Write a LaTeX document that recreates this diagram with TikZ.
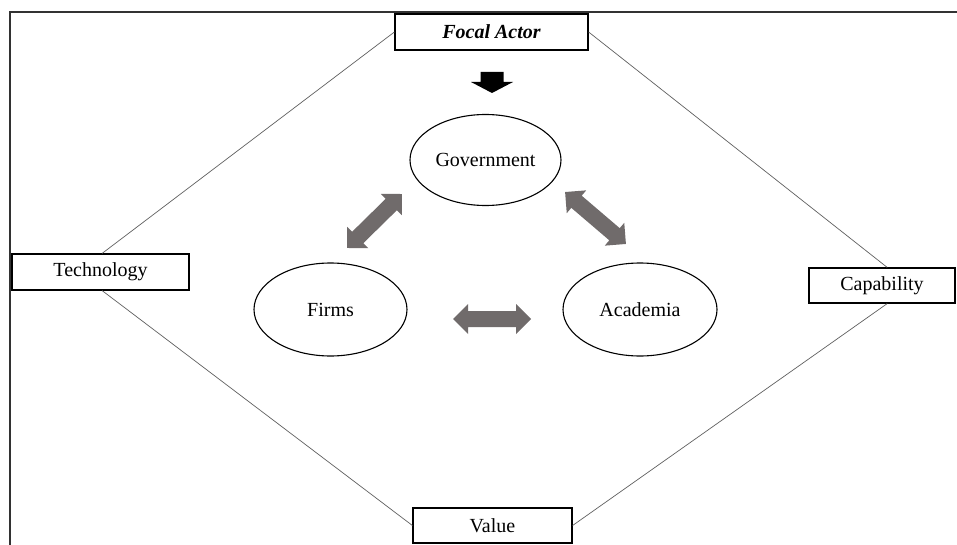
\documentclass[tikz,border=0pt]{standalone}
\usepackage{fontspec}
\setmainfont{Liberation Serif}
\usetikzlibrary{shapes.geometric}
\definecolor{arrowgray}{RGB}{112,107,107}
\definecolor{framegray}{RGB}{50,50,50}
\definecolor{linegray}{RGB}{95,95,95}
\newcommand\fatarrow[4]{%
  \fill[arrowgray, shift={(#1,#2)}, rotate=#3]
    ({-#4*1pt},0pt) -- ({(-#4+15)*1pt},15pt) -- ({(-#4+15)*1pt},8pt)
    -- ({(#4-15)*1pt},8pt) -- ({(#4-15)*1pt},15pt) -- ({#4*1pt},0pt)
    -- ({(#4-15)*1pt},-15pt) -- ({(#4-15)*1pt},-8pt)
    -- ({(-#4+15)*1pt},-8pt) -- ({(-#4+15)*1pt},-15pt) -- cycle;}
\begin{document}
\begin{tikzpicture}[x=1pt,y=-1pt,
  lbl/.style={font=\fontsize{20}{24}\selectfont},
  box/.style={lbl, draw=black, line width=1.2pt, fill=white, inner sep=0pt},
  oval/.style={lbl, ellipse, draw=black, line width=1.1pt, inner sep=0pt},
  diag/.style={draw=linegray, line width=0.7pt}]
\useasboundingbox (0,0) rectangle (957,545);
% frame
\draw[framegray, line width=2pt] (10,545) -- (10,12) -- (957,12);
% boxes
\node[box, minimum width=193pt, minimum height=36pt] (focal) at (491.5,32) {\bfseries\itshape Focal Actor};
\node[box, minimum width=177pt, minimum height=36pt] (tech) at (100.5,272) {Technology};
\node[box, minimum width=146pt, minimum height=35pt] (cap) at (882,285.5) {Capability};
\node[box, minimum width=159pt, minimum height=35pt] (value) at (492.5,525.5) {Value};
% diamond
\draw[diag] (focal.west) -- (tech.85);
\draw[diag] (focal.east) -- (cap.74);
\draw[diag] (tech.-85) -- (value.west);
\draw[diag] (cap.-74) -- (value.east);
% ellipses
\node[oval, minimum width=151pt, minimum height=91pt] (gov) at (485.5,160) {Government};
\node[oval, minimum width=153pt, minimum height=93pt] (firms) at (330.5,309.5) {Firms};
\node[oval, minimum width=154pt, minimum height=93pt] (acad) at (640,309.5) {Academia};
% black arrow
\coordinate (down) at (492,72);
\fill[black] (480.5,72) -- (503.5,72) -- (503.5,82) -- (513,82) -- (492,93) -- (471,82) -- (480.5,82) -- cycle;
% gray double arrows
\fatarrow{374.5}{221}{44.5}{38.5}
\fatarrow{595.5}{218}{-40.5}{40}
\fatarrow{492}{319}{0}{39}
\end{tikzpicture}
\end{document}
